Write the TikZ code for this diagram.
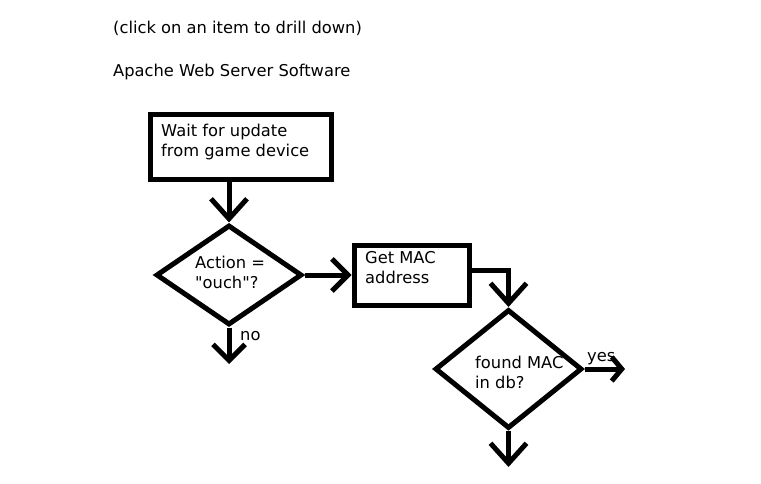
\documentclass[tikz,border=0pt]{standalone}
\usepackage{fontspec}
\setmainfont{DejaVu Sans}[Ligatures=TeXOff]
\usetikzlibrary{shapes.geometric,arrows.meta}
\begin{document}
\begin{tikzpicture}[x=1pt,y=-1pt,
  txt/.style={anchor=base west,inner sep=0pt,font=\fontsize{16.3}{20}\selectfont,align=left},
  boxnode/.style={draw,line width=5pt,rectangle,inner sep=0pt},
  dianode/.style={draw,line width=5pt,diamond,inner sep=0pt},
  flow/.style={line width=5pt,-{Straight Barb[length=20pt,width=36pt]}},
  shortflow/.style={line width=5pt,-{Straight Barb[length=16pt,width=32pt]}},
  tinyflow/.style={line width=5pt,-{Straight Barb[length=10pt,width=24pt]}}]
\useasboundingbox[fill=white] (0,0) rectangle (761,484);
\node[txt] (t1) at (113,34) {(click on an item to drill down)};
\node[txt] (t2) at (113,77) {Apache Web Server Software};
\node[boxnode,minimum width=181pt,minimum height=65pt] (box1) at (240.5,147.5) {};
\node[txt] (l1) at (161,157) {Wait for update\\from game device};
\node[dianode,minimum width=146pt,minimum height=100pt] (d1) at (229,275) {};
\node[txt] (l2) at (195,288) {Action =\\"ouch"?};
\node[boxnode,minimum width=115pt,minimum height=60pt] (box2) at (411.5,275) {};
\node[txt] (l3) at (365,283) {Get MAC\\address};
\node[dianode,minimum width=147pt,minimum height=119pt] (d2) at (508.5,369) {};
\node[txt] (l4) at (475,388) {found MAC\\in db?};
\node[txt] (no) at (240,340) {no};
\node[txt] (yes) at (587,361) {yes};
\coordinate (noend) at (229,364);
\coordinate (yesend) at (625,369);
\coordinate (botend) at (508.5,467);
\draw[flow] (d1.north |- box1.south) -- (d1.north);
\draw[shortflow] (d1.east) -- (box2.west);
\draw[flow] ([yshift=5pt]box2.east) -| (d2.north);
\draw[shortflow] (d1.south) -- (noend);
\draw[tinyflow] (d2.east) -- (yesend);
\draw[flow] (d2.south) -- (botend);
\end{tikzpicture}
\end{document}
